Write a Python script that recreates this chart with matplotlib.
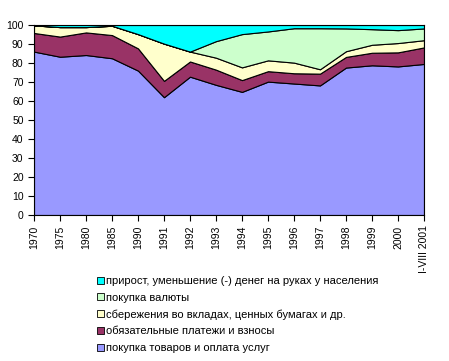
import matplotlib.pyplot as plt
import numpy as np

plt.rcParams['font.family'] = ['Liberation Sans', 'DejaVu Sans']

years = ['1970', '1975', '1980', '1985', '1990', '1991', '1992', '1993', '1994',
         '1995', '1996', '1997', '1998', '1999', '2000', 'I-VIII 2001']

# структура денежных расходов населения, %
goods = [86.0, 83.3, 84.2, 82.5, 76.0, 62.0, 72.8, 68.5, 64.8,
         70.2, 69.2, 68.2, 77.6, 78.8, 78.2, 79.5]
payments = [9.8, 10.6, 11.9, 12.2, 11.7, 8.6, 8.0, 8.0, 6.2,
            5.5, 5.4, 6.2, 5.6, 6.6, 7.4, 8.7]
savings = [4.0, 5.0, 2.8, 4.9, 7.5, 19.6, 5.2, 6.3, 6.7,
           5.7, 5.6, 2.3, 3.0, 4.2, 4.9, 3.8]
currency = [0.0, 0.0, 0.0, 0.0, 0.0, 0.0, 0.0, 8.7, 17.5,
            15.2, 18.1, 21.6, 12.0, 8.2, 6.8, 6.2]
cash = [0.2, 1.1, 1.1, 0.4, 4.8, 9.8, 14.0, 8.5, 4.8,
        3.4, 1.7, 1.7, 1.8, 2.2, 2.7, 1.8]

labels = ['покупка товаров и оплата услуг',
          'обязательные платежи и взносы',
          'сбережения во вкладах, ценных бумагах и др.',
          'покупка валюты',
          'прирост, уменьшение (-) денег на руках у населения']
colors = ['#9999FF', '#993366', '#FFFFCC', '#CCFFCC', '#00FFFF']

fig = plt.figure(figsize=(4.49, 3.61), dpi=100)
ax = fig.add_axes([34 / 449, 1 - 215 / 361, 390 / 449, 190 / 361])

x = np.arange(len(years))
polys = ax.stackplot(x, goods, payments, savings, currency, cash,
                     colors=colors, labels=labels,
                     edgecolor='black', linewidth=0.8)

ax.set_xlim(0, len(years) - 1)
ax.set_ylim(0, 100)
ax.set_yticks(range(0, 101, 10))
ax.set_xticks(x)
ax.set_xticklabels(years, rotation=90)
ax.tick_params(axis='both', labelsize=7.5, direction='out', length=4,
               width=0.8, color='black')
for s in ax.spines.values():
    s.set_linewidth(0.8)
    s.set_color('black')

handles, lbls = ax.get_legend_handles_labels()
leg = fig.legend(handles[::-1], lbls[::-1], loc='upper left',
                 bbox_to_anchor=(97 / 449, 1 - 276 / 361), frameon=False,
                 fontsize=8.0, handlelength=0.6, handleheight=0.6,
                 handletextpad=0.25, labelspacing=0.6, borderpad=0,
                 borderaxespad=0)
for h in leg.legend_handles:
    h.set_edgecolor('black')
    h.set_linewidth(0.6)

plt.savefig('out.png', dpi=100)
